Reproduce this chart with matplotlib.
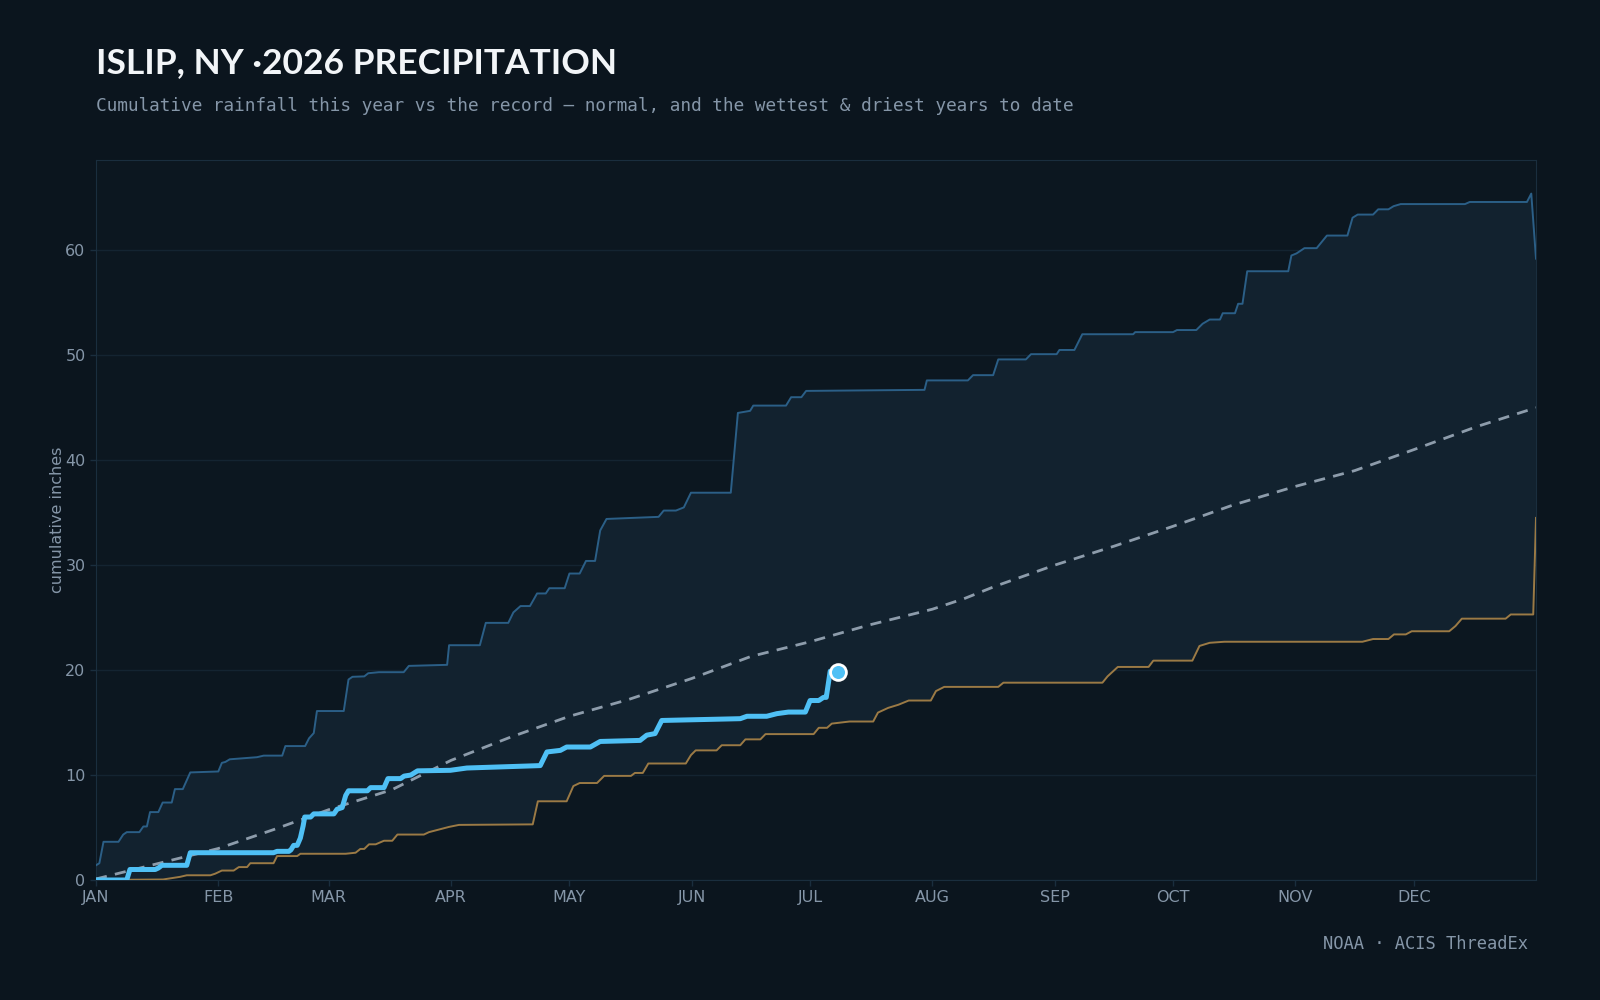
import numpy as np
import matplotlib
matplotlib.use("Agg")
import matplotlib.pyplot as plt

# --- data (day of year, cumulative inches) ---
month_starts = [0, 31, 59, 90, 120, 151, 181, 212, 243, 273, 304, 334]
month_labels = ['JAN', 'FEB', 'MAR', 'APR', 'MAY', 'JUN', 'JUL', 'AUG', 'SEP', 'OCT', 'NOV', 'DEC']

wet_days = [0, 0.85, 1.9, 5.7, 6.9, 7.8, 11, 12, 12.9, 13.7, 15.8, 16.9, 19.2, 20, 22, 23.9, 31, 31.9, 32.8,
            33.9, 40.8, 42.5, 47.2, 48, 53, 54, 55.2, 56, 62.8, 64, 65, 68, 69, 71.7, 78, 79.3, 89.0, 89.5,
            97.3, 98.8, 104.5, 105.8, 107.6, 110, 111.8, 114, 114.9, 118.8, 120, 122.6, 124.2, 126.5, 127.8,
            129.4, 142.6, 143.9, 147, 149, 150.8, 160.9, 162.7, 165.8, 166.6, 174.9, 176.2, 178.8, 180, 210,
            210.6, 221, 222.3, 227.4, 228.7, 235.7, 237, 243.5, 244.2, 248, 250, 262.9, 263.4, 273, 274,
            278.9, 280.5, 282.3, 284.9, 285.6, 288.7, 289.5, 290.6, 291.8, 302.2, 303, 304.3, 306.3, 309.4,
            312, 317.2, 318.5, 319.8, 323.7, 325, 327.6, 328.9, 330.7, 347, 348.2, 362.7, 363.8, 365]
wet_vals = [1.4, 1.6, 3.64, 3.64, 4.33, 4.56, 4.56, 5.1, 5.1, 6.47, 6.47, 7.38, 7.38, 8.66, 8.66, 10.25, 10.34,
            11.16, 11.25, 11.5, 11.7, 11.85, 11.85, 12.76, 12.76, 13.5, 14.0, 16.1, 16.1, 19.1, 19.36, 19.4,
            19.7, 19.8, 19.8, 20.4, 20.5, 22.37, 22.37, 24.5, 24.5, 25.5, 26.1, 26.1, 27.3, 27.3, 27.8, 27.8,
            29.2, 29.2, 30.4, 30.4, 33.3, 34.4, 34.6, 35.2, 35.2, 35.5, 36.9, 36.9, 44.5, 44.7, 45.2, 45.2,
            46.0, 46.0, 46.6, 46.7, 47.6, 47.6, 48.1, 48.1, 49.6, 49.6, 50.1, 50.1, 50.5, 50.5, 52.0, 52.0,
            52.2, 52.2, 52.4, 52.4, 53.0, 53.4, 53.4, 54.0, 54.0, 54.9, 54.9, 58.0, 58.0, 59.5, 59.7, 60.2,
            60.2, 61.4, 61.4, 63.1, 63.4, 63.4, 63.9, 63.9, 64.2, 64.4, 64.4, 64.6, 64.6, 65.4, 59.2]

dry_days = [0, 17, 21.3, 23, 29, 30.2, 31.9, 34.9, 36.2, 38.3, 39.1, 45, 45.9, 51, 51.8, 63.3, 65.8, 67, 68,
            69.2, 70.9, 73, 75.1, 76.4, 83.1, 84.4, 89.5, 92, 110.7, 112, 119.3, 121, 122.6, 127, 128.8, 135.6,
            136.6, 138.6, 140, 149.5, 150.8, 152, 157.3, 158.6, 163.3, 164.6, 168.4, 169.7, 181.9, 183.2, 185.3,
            186.5, 191, 197, 198.2, 200.8, 203.4, 206, 211.6, 212.9, 215, 228.7, 230, 255.1, 256.4, 259, 266.8,
            268, 277.9, 279.7, 282.3, 286, 321, 323.7, 327.6, 329, 332, 333.5, 343, 344.6, 346.2, 357.3, 358.6,
            364.3, 365]
dry_vals = [0.0, 0.05, 0.3, 0.45, 0.45, 0.6, 0.9, 0.9, 1.23, 1.23, 1.6, 1.6, 2.28, 2.28, 2.5, 2.5, 2.6, 2.96,
            2.96, 3.4, 3.4, 3.74, 3.74, 4.33, 4.33, 4.56, 5.06, 5.25, 5.3, 7.5, 7.5, 8.95, 9.24, 9.24, 9.92, 9.92,
            10.2, 10.2, 11.1, 11.1, 11.9, 12.35, 12.35, 12.84, 12.84, 13.4, 13.4, 13.9, 13.9, 14.5, 14.5,
            14.9, 15.1, 15.1, 15.95, 16.4, 16.7, 17.1, 17.1, 18.0, 18.4, 18.4, 18.8, 18.8, 19.4, 20.3, 20.3,
            20.9, 20.9, 22.3, 22.6, 22.7, 22.7, 22.96, 22.96, 23.4, 23.4, 23.7, 23.7, 24.2, 24.9, 24.9, 25.3,
            25.3, 34.5]

normal_days = [0, 15, 31, 45, 59, 75, 90, 105, 120, 135, 151, 166, 181, 196, 212, 220, 228, 243, 258, 273,
               288, 304, 319, 334, 350, 365]
normal_vals = [0.1, 1.5, 3.0, 4.8, 6.7, 8.6, 11.4, 13.6, 15.6, 17.2, 19.2, 21.3, 22.7, 24.3, 25.8, 26.8, 28.0,
               30.0, 31.8, 33.7, 35.7, 37.5, 39.0, 41.0, 43.2, 45.0]

this_days = [0, 7.8, 8.6, 15, 15.8, 16.7, 23, 23.9, 45, 45.9, 48.9, 49.4, 50.1, 51, 51.8, 52.5, 52.9, 54.4,
             55.2, 60.3, 61.1, 62.4, 63.3, 64, 68.8, 69.6, 73, 74, 77.2, 78.1, 79.8, 81.5, 89.8, 94, 112.6,
             114.3, 117.7, 119.3, 125.3, 127.8, 137.9, 139.6, 141.7, 143.4, 163.3, 165, 170, 172.6, 175.5,
             179.8, 181, 183.2, 184.4, 185.1, 186.1, 188.2]
this_vals = [0.0, 0.0, 1.0, 1.0, 1.14, 1.4, 1.4, 2.6, 2.6, 2.73, 2.73, 2.87, 3.3, 3.3, 4.0, 5.15, 6.0, 6.0,
             6.3, 6.3, 6.74, 6.9, 8.06, 8.5, 8.5, 8.8, 8.8, 9.66, 9.66, 9.9, 10.0, 10.4, 10.45, 10.67, 10.9,
             12.2, 12.35, 12.67, 12.67, 13.2, 13.3, 13.8, 13.95, 15.2, 15.37, 15.6, 15.6, 15.85, 16.0, 16.0,
             17.1, 17.1, 17.4, 17.4, 19.9, 19.8]

BG = '#0b151e'
AX_BG = '#0c1720'
BAND = '#12222f'
WET = '#2b5f87'
DRY = '#9b7a45'
NOW = '#4fc0f5'
NORMAL = '#8d9cab'
MUTED = '#8596a8'
EDGE = '#1a2e3e'

fig = plt.figure(figsize=(16, 10), dpi=100, facecolor=BG)
ax = fig.add_axes([0.06, 0.12, 0.90, 0.72], facecolor=AX_BG)

# band between driest and wettest
band_x = list(wet_days) + list(dry_days[::-1])
band_y = list(wet_vals) + list(dry_vals[::-1])
ax.fill(band_x, band_y, color=BAND, lw=0, zorder=1)

ax.plot(wet_days, wet_vals, color=WET, lw=1.4, zorder=3)
ax.plot(dry_days, dry_vals, color=DRY, lw=1.4, zorder=3)
ax.plot(normal_days, normal_vals, color=NORMAL, lw=2, ls=(0, (4, 3)), zorder=4)
ax.plot(this_days, this_vals, color=NOW, lw=3.6, zorder=5, solid_joinstyle='round')
ax.scatter([this_days[-1]], [this_vals[-1]], s=130, color=NOW, edgecolor='white', linewidth=2, zorder=6)

ax.set_xlim(0, 365)
ax.set_ylim(0, 68.6)
ax.set_xticks(month_starts)
ax.set_xticklabels(month_labels)
ax.set_yticks(range(0, 61, 10))
ax.grid(axis='y', color='#142431', lw=1)
ax.set_axisbelow(True)
ax.tick_params(colors=MUTED, labelsize=11.5, length=4, width=1)
ax.tick_params(axis='both', color=EDGE)
for sp in ax.spines.values():
    sp.set_color(EDGE)
ax.set_ylabel('cumulative inches', color=MUTED, fontsize=11.5, labelpad=0)

fig.text(0.06, 0.937, 'ISLIP, NY ·2026 PRECIPITATION', color='#f2f5f8', fontsize=25.5,
         fontweight='bold', family='Lato', va='center')
fig.text(0.06, 0.894, 'Cumulative rainfall this year vs the record — normal, and the wettest & driest years to date',
         color=MUTED, fontsize=12.75, family='DejaVu Sans Mono', va='center')
fig.text(0.955, 0.056, 'NOAA · ACIS ThreadEx', color=MUTED, fontsize=12.3,
         family='DejaVu Sans Mono', ha='right', va='center')

fig.savefig('out.png', dpi=100, facecolor=BG)
